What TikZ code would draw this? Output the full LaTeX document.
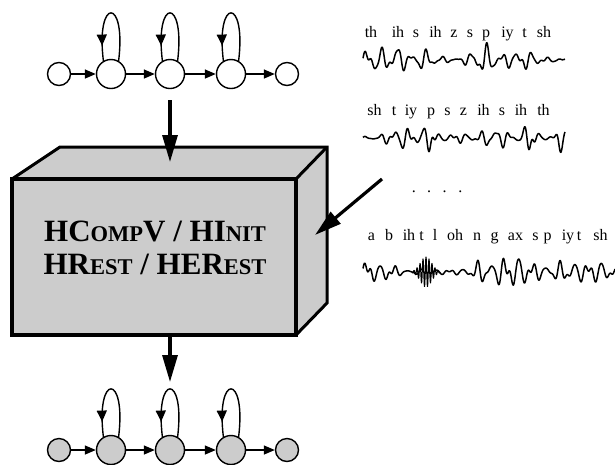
\documentclass[tikz,border=0pt]{standalone}
\usepackage{fontspec}
\setmainfont{Liberation Serif}
\usetikzlibrary{arrows.meta,decorations.markings}
\definecolor{boxgray}{gray}{0.8}
\newcommand{\fsc}[1]{{\fontsize{22.5}{22.5}\selectfont #1}}
\tikzset{declare function={
  g(\t,\c,\w)=exp(max(-9,-((\t-\c)/\w)^2));
}}
\begin{document}
\begin{tikzpicture}[x=1pt,y=1pt,
  small/.style={circle,draw,line width=1.4pt,minimum size=23pt,inner sep=0pt},
  large/.style={circle,draw,line width=1.4pt,minimum size=29pt,inner sep=0pt},
  trans/.style={line width=1.4pt,-{Triangle[length=11pt,width=9pt]}},
  selfloop/.style={line width=1.4pt,decoration={markings,mark=at position 0.85 with {\arrow{Triangle[length=11pt,width=10pt]}}},postaction={decorate}},
  bigarrow/.style={line width=3.2pt,-{Triangle[length=27pt,width=15pt]}},
  lbl/.style={inner sep=0pt,anchor=base,font=\fontsize{16}{16}\selectfont},
  wave/.style={line width=1.5pt,line join=round}
]
\useasboundingbox (0,0) rectangle (615,-464);

% ---------- top HMM ----------
\node[small] (a1) at (59,-74) {};
\node[large] (a2) at (111,-74) {};
\node[large] (a3) at (170,-74) {};
\node[large] (a4) at (231,-74) {};
\node[small] (a5) at (287,-74) {};
\foreach \i/\j in {1/2,2/3,3/4,4/5} \draw[trans] (a\i) -- (a\j);
\foreach \i in {2,3,4} \draw[selfloop] (a\i.60) .. controls +(8,64) and +(-8,64) .. (a\i.120);

% ---------- box ----------
\coordinate (fTL) at (12,-179);
\coordinate (fTR) at (296,-179);
\coordinate (fBR) at (296,-335);
\coordinate (fBL) at (12,-335);
\coordinate (bTL) at (60,-147);
\coordinate (bTR) at (327,-147);
\coordinate (bBR) at (327,-303);
\fill[boxgray] (fTL) -- (bTL) -- (bTR) -- (bBR) -- (fBR) -- (fBL) -- cycle;
\draw[line width=3pt,line join=miter] (fTL) -- (bTL) -- (bTR) -- (bBR) -- (fBR);
\draw[line width=3pt] (bTR) -- (fTR);
\draw[line width=4pt,line join=miter] (fTL) rectangle (fBR);
\node[align=center,inner sep=0pt,font=\fontsize{31}{33}\selectfont\bfseries] (box) at (155,-248)
  {HC\fsc{OMP}V / HI\fsc{NIT}\\HR\fsc{EST} / HER\fsc{EST}};

% ---------- arrows ----------
\coordinate (inTop) at (170,-162);
\coordinate (inRight) at (315,-235);
\coordinate (outTop) at (170,-335);
\coordinate (outBot) at (170,-382);
\coordinate (wavesEnd) at (382,-179);
\draw[bigarrow] ([yshift=-11pt]a3.south) -- (inTop);
\draw[bigarrow] (wavesEnd) -- (inRight);
\draw[bigarrow] (outTop) -- (outBot);

% ---------- bottom HMM ----------
\node[small,fill=boxgray] (b1) at (59,-450) {};
\node[large,fill=boxgray] (b2) at (111,-450) {};
\node[large,fill=boxgray] (b3) at (170,-450) {};
\node[large,fill=boxgray] (b4) at (231,-450) {};
\node[small,fill=boxgray] (b5) at (287,-450) {};
\foreach \i/\j in {1/2,2/3,3/4,4/5} \draw[trans] (b\i) -- (b\j);
\foreach \i in {2,3,4} \draw[selfloop] (b\i.60) .. controls +(8,64) and +(-8,64) .. (b\i.120);

% ---------- labels ----------
\foreach \x/\t [count=\i] in {371/th,398/ih,416/s,435.5/ih,454/z,470/s,486/p,507.5/iy,524.5/t,544/sh}
  \node[lbl] (la\i) at (\x,-37) {\t};
\foreach \x/\t [count=\i] in {374.5/sh,394/t,411/iy,431/p,447.5/s,463.5/z,483.5/ih,502/s,521/ih,543.5/th}
  \node[lbl] (lb\i) at (\x,-115) {\t};
\foreach \x/\t [count=\i] in {371.5/a,389/b,409/ih,421.5/t,435/l,455/oh,477/n,494.5/g,515.5/ax,535.5/s,547.5/p,568/iy,579/t,600.5/sh}
  \node[lbl] (lc\i) at (\x,-240) {\t};
\node[lbl] (dots) at (437,-192) {.\hspace{11.5pt}.\hspace{11.5pt}.\hspace{11.5pt}.};

% ---------- waveforms ----------
\draw[wave] plot[domain=0:202,samples=500]
  ({363+\x},{-60+(0.12+0.9*g(\x,12,14)+1.0*g(\x,34,7)+0.6*g(\x,60,16)+1.0*g(\x,120,14)+0.6*g(\x,158,18))*(9*sin(24*\x)+5*sin(41*\x+40)+2.5*sin(59*\x))});
\draw[wave] plot[domain=0:202,samples=500]
  ({363+\x},{-138+(0.1+0.7*g(\x,38,16)+1.0*g(\x,66,7)+0.25*g(\x,95,15)+0.7*g(\x,132,15)+1.0*g(\x,167,8)+1.0*g(\x,199,6))*(9*sin(25*\x+20)+5*sin(43*\x+10)+2.5*sin(58*\x+30))});
\draw[wave] plot[domain=0:252,samples=600]
  ({363+\x},{-272+(0.18+0.8*g(\x,6,8)+0.6*g(\x,25,8)+0.5*g(\x,118,12)+1.0*g(\x,150,22)+0.6*g(\x,207,25)+0.5*g(\x,240,12))*(9*sin(26*\x)+5*sin(44*\x+70)+2.5*sin(57*\x+20))});
\draw[wave,line width=1pt] plot[domain=-14:14,samples=400]
  ({426+\x},{-272+15*exp(-(\x/8)^2)*sin(120*\x+90)});
\end{tikzpicture}
\end{document}
